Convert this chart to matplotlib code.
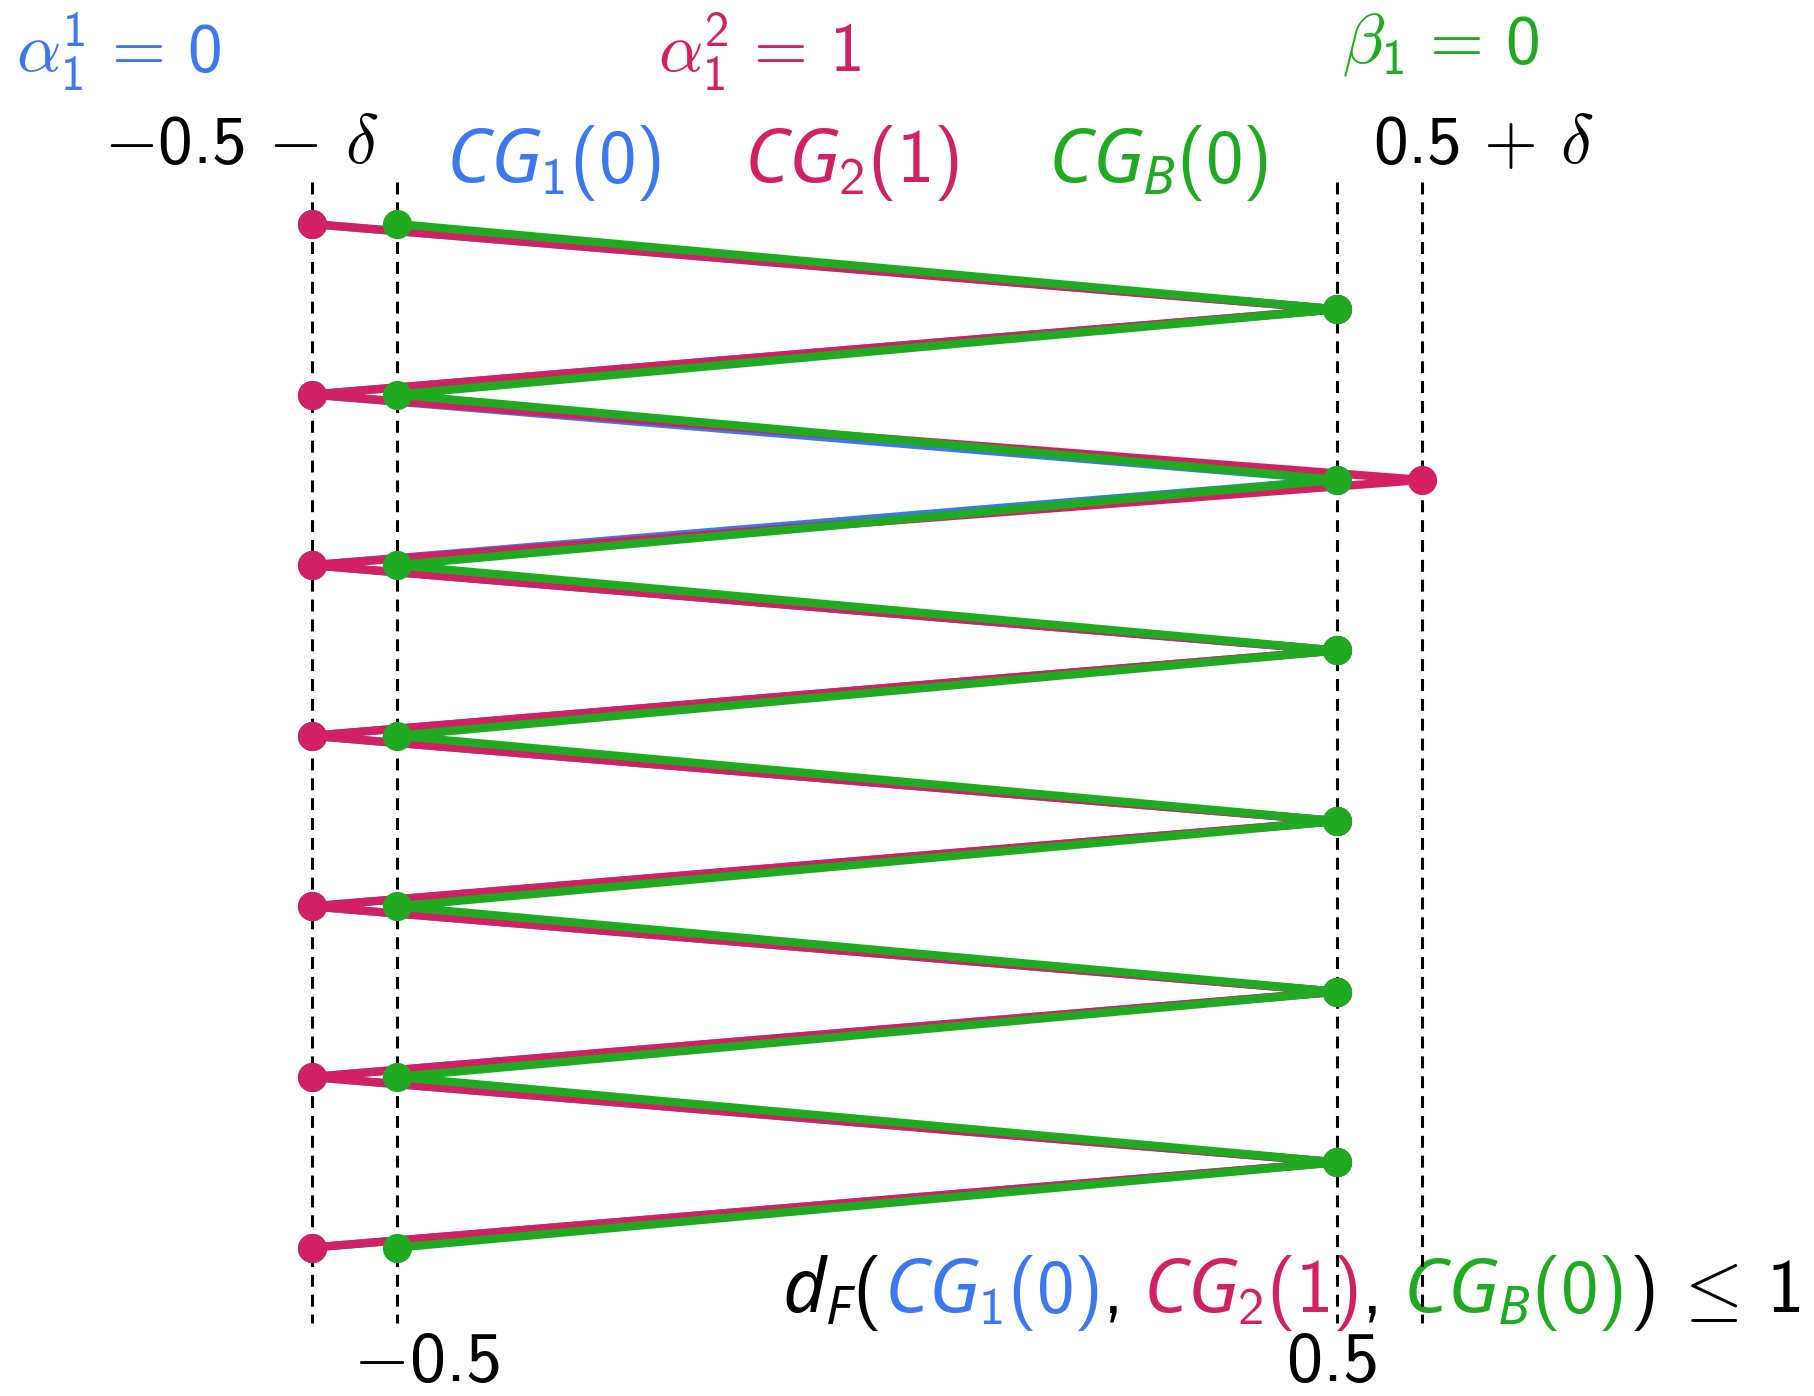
"""Zigzag comparison of CG_1(0), CG_2(1), CG_B(0) with dashed guides."""
import matplotlib

matplotlib.use("Agg")
import matplotlib.pyplot as plt  # noqa: E402

W, H = 1815, 1396

plt.rcParams["mathtext.fontset"] = "custom"
plt.rcParams["mathtext.rm"] = "cmss10"
plt.rcParams["mathtext.sf"] = "cmss10"
plt.rcParams["mathtext.it"] = "Noto Sans:italic"
plt.rcParams["mathtext.fallback"] = "cm"

BLUE = "#3c78f0"
RED = "#d12162"
GREEN = "#20aa22"

DELTA = 0.091
L, R = -0.5, 0.5

rows = list(range(13))
cg1_x = [L - DELTA, R, L - DELTA, R, L - DELTA, R, L - DELTA,
         R, L - DELTA, R, L - DELTA, R, L - DELTA]
cg2_x = [L - DELTA, R, L - DELTA, R + DELTA, L - DELTA, R, L - DELTA,
         R, L - DELTA, R, L - DELTA, R, L - DELTA]
cgb_x = [L, R, L, R, L, R, L, R, L, R, L, R, L]
guide_x = [L - DELTA, L, R, R + DELTA]

fig = plt.figure(figsize=(W / 100, H / 100), dpi=100)
ax = fig.add_axes([0, 0, 1, 1])
ax.axis("off")

# pixel geometry of the reference
x_unit, x0_px = 939.5, 397.0
y_unit, y0_px = 85.3, 224.0
ax.set_xlim(L - x0_px / x_unit, L + (W - x0_px) / x_unit)
ax.set_ylim((H - y0_px) / y_unit, -y0_px / y_unit)

y_top, y_bot = (182 - y0_px) / y_unit, (1323 - y0_px) / y_unit
for gx in guide_x:
    ax.plot([gx, gx], [y_top, y_bot], color="black", lw=2.2,
            ls=(0, (3.9, 2.6)), zorder=2)

for xs, color, z in [(cg1_x, BLUE, 3), (cg2_x, RED, 4), (cgb_x, GREEN, 5)]:
    ax.plot(xs, rows, color=color, lw=6, solid_joinstyle="miter",
            marker="o", markersize=20, zorder=z)


def label(x, y, s, color="black", size=50, ha="center"):
    return ax.text(x / W, 1 - y / H, s, color=color, fontsize=size, ha=ha,
                   va="baseline", transform=fig.transFigure, zorder=1)


label(119, 72, r"$\mathsf{\alpha}_1^1 \,=\, 0$", BLUE)
label(759, 72, r"$\mathsf{\alpha}_1^2 \,=\, 1$", RED)
label(1441, 63, r"$\mathsf{\beta}_1 \,=\, 0$", GREEN)
label(241, 163, r"$-0.5 \,-\, \mathsf{\delta}$")
label(1483, 163, r"$0.5 \,+\, \mathsf{\delta}$")
label(554, 182, r"$CG_1(0)$", BLUE, 54)
label(852, 182, r"$CG_2(1)$", RED, 54)
label(1158, 182, r"$CG_B(0)$", GREEN, 54)
label(426, 1381, r"$-0.5$", size=52)
label(1331, 1381, r"$0.5$", size=52)

# multi-coloured distance statement, laid out right to left
pieces = [
    (r"$d_F($", "black", 0),
    (r"$CG_1(0)$", BLUE, 4),
    (r"$,$", "black", 3),
    (r"$CG_2(1)$", RED, 26),
    (r"$,$", "black", 3),
    (r"$CG_B(0)$", GREEN, 26),
    (r"$)$", "black", 6),
    (r"$\leq\, 1$", "black", 16),
]
renderer = fig.canvas.get_renderer()
x = 1800
for s, color, gap in reversed(pieces):
    t = label(x, 1312, s, color, 54, ha="right")
    bb = t.get_window_extent(renderer)
    x = bb.x0 - gap

fig.savefig("out.png", dpi=100)
plt.close(fig)
